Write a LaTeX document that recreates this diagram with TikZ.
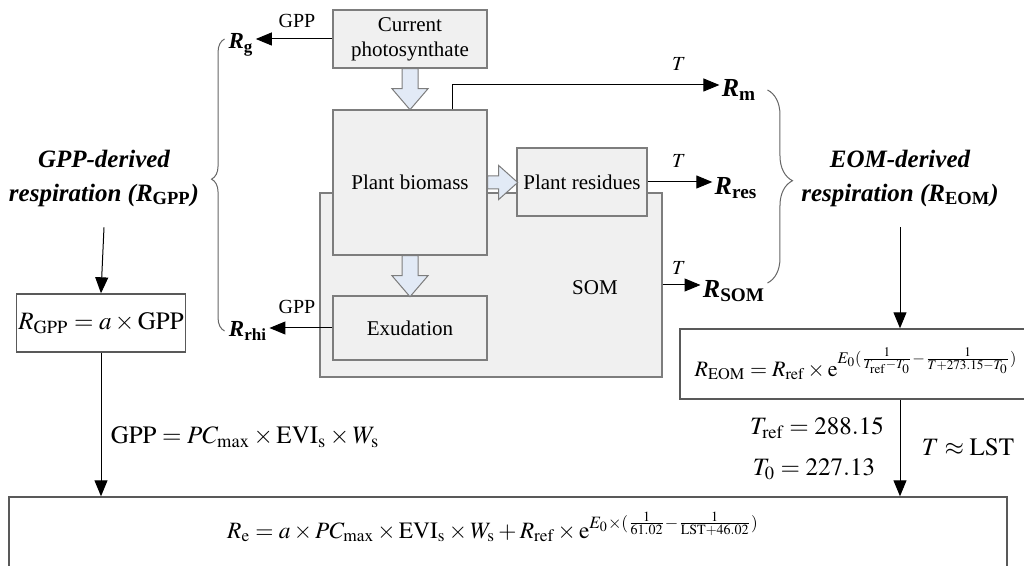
\documentclass[tikz,border=0pt]{standalone}
\usepackage{mathptmx}
\usepackage{fontspec}
\setmainfont{Liberation Serif}
\usetikzlibrary{arrows.meta, positioning, calc, decorations.pathreplacing}
\definecolor{boxfill}{RGB}{240,240,240}
\definecolor{boxline}{RGB}{125,125,125}
\definecolor{flowblue}{RGB}{226,234,246}

\tikzset{
    flowline/.style={draw=boxline, fill=flowblue, line width=0.5pt, line join=miter},
    pics/flowdown/.style={code={
        \draw[flowline] (-8,0) -- (-8,20) -- (-18,20) -- (0,41) -- (18,20) -- (8,20) -- (8,0) -- cycle;}},
    pics/flowright/.style={code={
        \draw[flowline] (0,-6.5) -- (11,-6.5) -- (11,-17) -- (30,0) -- (11,17) -- (11,6.5) -- (0,6.5) -- cycle;}}
}

\begin{document}
\begin{tikzpicture}[x=0.5pt, y=-0.5pt,
    pool/.style={draw=boxline, fill=boxfill, line width=0.7pt, align=center, inner sep=0pt,
        font=\fontsize{10.5}{12.5}\selectfont},
    resp/.style={font=\fontsize{13}{15}\selectfont\bfseries, inner sep=1pt},
    respl/.style={font=\fontsize{11.5}{13}\selectfont\bfseries, inner sep=1pt},
    small/.style={font=\fontsize{10}{12}\selectfont, inner sep=1pt},
    title/.style={font=\fontsize{12.5}{17}\selectfont\bfseries\itshape, align=center},
    eqbox/.style={draw=black!65, line width=0.7pt, inner sep=0pt},
    eq/.style={font=\fontsize{12.5}{15}\selectfont, inner sep=1pt},
    arr/.style={-{Triangle[length=8pt,width=6.5pt]}, line width=0.5pt},
    brc/.style={decorate, draw=black!60, line width=0.5pt}
]
\useasboundingbox (0,0) rectangle (1024,566);

% Carbon pools
\node[pool, minimum width=171pt, minimum height=92pt] (som) at (491,285) {};
\node[pool, minimum width=77pt, minimum height=29pt] (photo) at (410,39) {Current\\photosynthate};
\node[pool, minimum width=77pt, minimum height=72.5pt] (bio) at (410,182.5) {Plant biomass};
\node[pool, minimum width=65pt, minimum height=34pt] (res) at (582,182) {Plant residues};
\node[pool, minimum width=77pt, minimum height=32pt] (exu) at (410,328) {Exudation};
\node[font=\fontsize{10.5}{12.5}\selectfont] (somlbl) at (595,288) {SOM};

% Hollow flow arrows
\pic at (photo.south) {flowdown};
\pic at (bio.east) {flowright};
\pic at (bio.south) {flowdown};

% Respiration fluxes
\node[respl] (rg) at (241,45) {\textit{R}\textsubscript{g}};
\node[small] (gpp1) at (297,21) {GPP};
\draw[arr] (photo.west) -- (photo.west -| rg.east);

\node[resp] (rm) at (739,90) {\textit{R}\textsubscript{m}};
\node[small] (t1) at (679,64) {$T$};
\draw[arr] ([xshift=21pt]bio.north) |- ([yshift=2.5pt]rm.west);

\node[resp] (rres) at (736,188) {\textit{R}\textsubscript{res}};
\node[small] (t2) at (679,161) {$T$};
\draw[arr] (res.east) -- (res.east -| rres.west);

\node[resp] (rsom) at (734,291) {\textit{R}\textsubscript{SOM}};
\node[small] (t3) at (679,268) {$T$};
\draw[arr] (som.east) -- (som.east -| rsom.west);

\node[respl] (rrhi) at (248,331) {\textit{R}\textsubscript{rhi}};
\node[small] (gpp2) at (297,307) {GPP};
\draw[arr] (exu.west) -- (exu.west -| rrhi.east);

% Grouping braces
\draw[brc, decoration={brace, amplitude=6.5pt, aspect=0.52}] ([xshift=-1pt]rrhi.west) -- ([xshift=-1pt]rrhi.west |- photo.west);
\draw[brc, decoration={brace, amplitude=12.5pt, aspect=0.47}] (rsom.east |- rm.east) -- ([yshift=4pt]rsom.east);

\node[title] (gppd) at (104,178) {GPP-derived\\respiration (\textit{R}\textsubscript{\upshape GPP})};
\node[title] (eomd) at (900,178) {EOM-derived\\respiration (\textit{R}\textsubscript{\upshape EOM})};

% Equations
\node[eqbox, minimum width=84pt, minimum height=29pt, eq] (rgpp) at (101,323) {$R_{\mathrm{GPP}} = a\times\mathrm{GPP}$};
\node[eqbox, minimum width=173pt, minimum height=35pt] (reom) at (853,364) {};
\node[eq, font=\fontsize{11}{14}\selectfont] (reomeq) at (856,364) {$R_{\mathrm{EOM}} = R_{\mathrm{ref}}\times\mathrm{e}^{E_0(\frac{1}{T_{\mathrm{ref}}-T_0}-\frac{1}{T+273.15-T_0})}$};
\node[eqbox, minimum width=499pt, minimum height=50pt] (re) at (508,547) {};
\node[eq, font=\fontsize{11.7}{14}\selectfont] (reeq) at (493,527) {$R_{\mathrm{e}} = a\times PC_{\max}\times\mathrm{EVI}_{\mathrm{s}}\times W_{\mathrm{s}} + R_{\mathrm{ref}}\times\mathrm{e}^{E_0\times(\frac{1}{61.02}-\frac{1}{\mathrm{LST}+46.02})}$};

\node[eq] (gppeq) at (245,437) {$\mathrm{GPP} = PC_{\max}\times\mathrm{EVI}_{\mathrm{s}}\times W_{\mathrm{s}}$};
\node[eq] (tref) at (817,428) {$T_{\mathrm{ref}} = 288.15$};
\node[eq] (tzero) at (814,469) {$T_0 = 227.13$};
\node[eq] (tlst) at (968,447) {$T\approx\mathrm{LST}$};

\draw[arr] ([yshift=-7pt]gppd.south) -- (rgpp.north);
\draw[arr] (rgpp.south) -- (rgpp.south |- re.north);
\draw[arr] ([yshift=-7pt]eomd.south) -- (eomd.south |- reom.north);
\draw[arr] (eomd.south |- reom.south) -- (eomd.south |- re.north);
\end{tikzpicture}
\end{document}
